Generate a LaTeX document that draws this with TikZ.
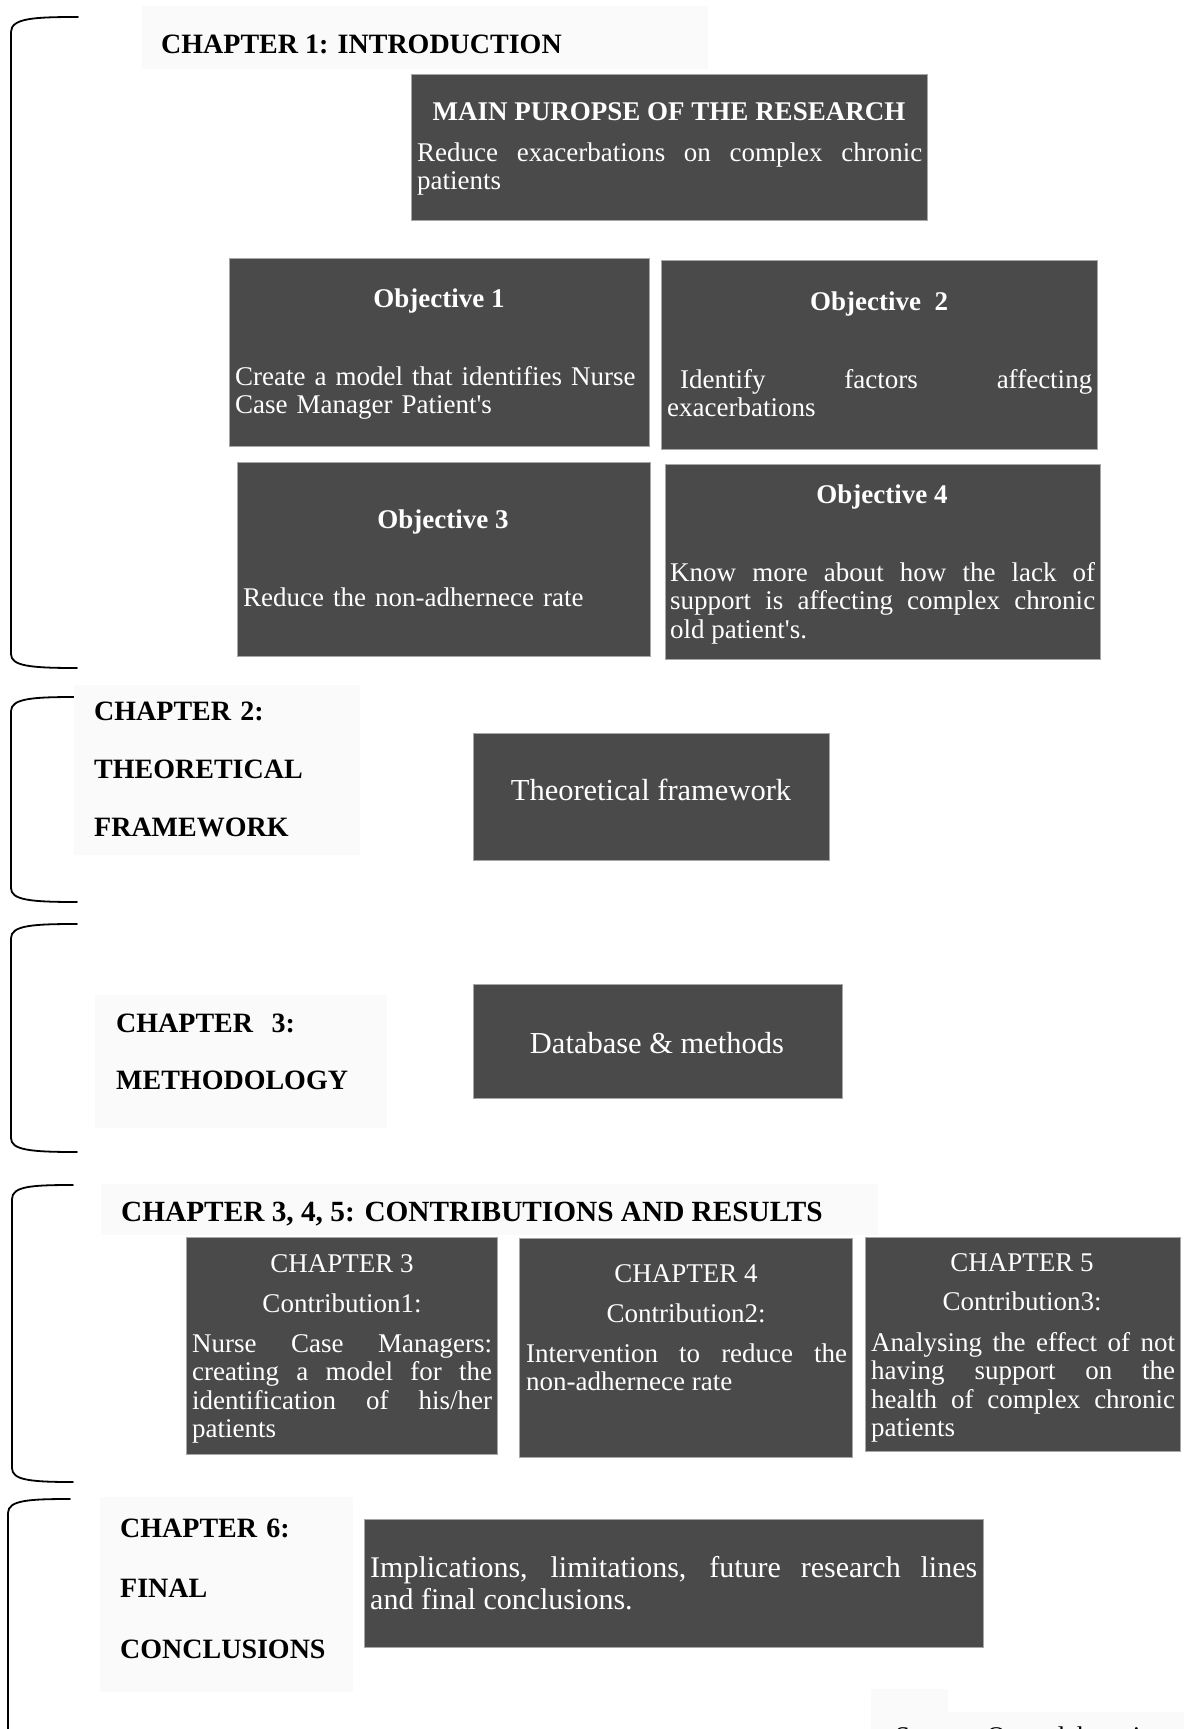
\documentclass[tikz,border=0pt]{standalone}
\usepackage{fontspec}
\setmainfont{Liberation Serif}
\definecolor{boxgrey}{RGB}{74,74,74}
\definecolor{paper}{RGB}{250,250,250}
\hyphenpenalty=10000
\exhyphenpenalty=10000

\begin{document}
\begin{tikzpicture}[x=1pt,y=-1pt,
  dark/.style={fill=boxgrey,draw=black!35,line width=1pt,anchor=north west,inner sep=0pt},
  pale/.style={fill=paper,anchor=north west,inner sep=0pt},
  chap/.style={font=\fontsize{28}{30}\selectfont\bfseries,anchor=base west,inner sep=0pt},
  head/.style={font=\fontsize{27}{28.5}\selectfont\bfseries,text=white,anchor=base,inner sep=0pt},
  sub/.style={font=\fontsize{27}{28.5}\selectfont,text=white,anchor=base,inner sep=0pt},
  txt/.style={font=\fontsize{27}{28.5}\selectfont,text=white,anchor=base west,inner sep=0pt,align=justify},
  big/.style={font=\fontsize{30.5}{32}\selectfont,text=white,anchor=base,inner sep=0pt},
  brace/.style={line width=1.8pt,line cap=round}]
  \useasboundingbox (0,0) rectangle (1184,1729);

  \draw[brace] (78,17) .. controls (35,17) and (11,18) .. (11,32) -- (11,654) .. controls (11,666) and (30,668) .. (77,668);
  \draw[brace] (77,697) .. controls (35,697) and (11,698) .. (11,711) -- (11,888) .. controls (11,900) and (30,902) .. (77,902);
  \draw[brace] (77,924) .. controls (35,924) and (11,925) .. (11,938) -- (11,1138) .. controls (11,1150) and (30,1152) .. (77,1152);
  \draw[brace] (73,1185) .. controls (33,1185) and (12,1186) .. (12,1199) -- (12,1468) .. controls (12,1480) and (30,1482) .. (73,1482);
  \draw[brace] (70,1499) .. controls (30,1499) and (8,1500) .. (8,1513) -- (8,1729);

  \node[pale,minimum width=566,minimum height=63] (Ch1) at (142,6) {};
  \node[chap] (Ch1T) at (161,53) {CHAPTER 1: INTRODUCTION};

  \node[dark,minimum width=516,minimum height=146] (Main) at (411,74) {};
  \node[head] (MainT) at (669,120) {MAIN PUROPSE OF THE RESEARCH};
  \node[txt,text width=505] (MainB) at (417,161) {Reduce exacerbations on complex chronic\linebreak patients};

  \node[dark,minimum width=420,minimum height=188] (Obj1) at (229,258) {};
  \node[head] (Obj1T) at (439,307) {Objective 1};
  \node[txt,text width=406,align=left] (Obj1B) at (235,385) {Create a model that identifies Nurse\\Case Manager Patient\textquotesingle s};

  \node[dark,minimum width=436,minimum height=189] (Obj2) at (661,260) {};
  \node[head] (Obj2T) at (879,310) {Objective\ \ 2};
  \node[txt,text width=425] (Obj2B) at (667,388) {\hspace*{13pt}Identify factors affecting\linebreak exacerbations};

  \node[dark,minimum width=413,minimum height=194] (Obj3) at (237,462) {};
  \node[head] (Obj3T) at (443,528) {Objective 3};
  \node[txt,text width=400,align=left] (Obj3B) at (243,606) {Reduce the non-adhernece rate};

  \node[dark,minimum width=435,minimum height=195] (Obj4) at (665,464) {};
  \node[head] (Obj4T) at (882,503) {Objective 4};
  \node[txt,text width=425] (Obj4B) at (670,581) {Know more about how the lack of\linebreak support is affecting complex chronic\linebreak old patient\textquotesingle s.};

  \node[pale,minimum width=286,minimum height=170] (Ch2) at (74,685) {};
  \node[chap,font=\fontsize{28}{58}\selectfont\bfseries,text width=260,align=left] (Ch2T) at (94,720) {CHAPTER 2:\\THEORETICAL\\FRAMEWORK};

  \node[dark,minimum width=356,minimum height=127] (Theo) at (473,733) {};
  \node[big] (TheoT) at (651,800) {Theoretical framework};

  \node[pale,minimum width=292,minimum height=133] (Ch3) at (95,995) {};
  \node[chap,font=\fontsize{28}{57}\selectfont\bfseries,text width=260,align=left] (Ch3T) at (116,1032) {CHAPTER\ \ 3:\\METHODOLOGY};

  \node[dark,minimum width=369,minimum height=114] (Data) at (473,984) {};
  \node[big] (DataT) at (657,1053) {Database \& methods};

  \node[pale,minimum width=777,minimum height=51] (Ch345) at (101,1184) {};
  \node[chap,font=\fontsize{29.3}{31}\selectfont\bfseries] (Ch345T) at (121,1221) {CHAPTER 3, 4, 5: CONTRIBUTIONS AND RESULTS};

  \node[dark,minimum width=311,minimum height=217] (C3) at (186,1237) {};
  \node[sub] (C3T) at (342,1272) {CHAPTER 3};
  \node[sub] (C3S) at (342,1312) {Contribution1:};
  \node[txt,text width=300] (C3B) at (192,1352) {Nurse Case Managers:\linebreak creating a model for the\linebreak identification of his/her\linebreak patients};

  \node[dark,minimum width=333,minimum height=219] (C4) at (519,1238) {};
  \node[sub] (C4T) at (686,1282) {CHAPTER 4};
  \node[sub] (C4S) at (686,1322) {Contribution2:};
  \node[txt,text width=321] (C4B) at (526,1362) {Intervention to reduce the\linebreak non-adhernece rate};

  \node[dark,minimum width=315,minimum height=214] (C5) at (865,1237) {};
  \node[sub] (C5T) at (1022,1271) {CHAPTER 5};
  \node[sub] (C5S) at (1022,1310) {Contribution3:};
  \node[txt,text width=304] (C5B) at (871,1351) {Analysing the effect of not\linebreak having support on the\linebreak health of complex chronic\linebreak patients};

  \node[pale,minimum width=253,minimum height=195] (Ch6) at (100,1497) {};
  \node[chap,font=\fontsize{28}{60.5}\selectfont\bfseries,text width=230,align=left] (Ch6T) at (120,1537) {CHAPTER 6:\\FINAL\\CONCLUSIONS};

  \node[dark,minimum width=619,minimum height=128] (Impl) at (364,1519) {};
  \node[txt,font=\fontsize{30}{32}\selectfont,text width=607] (ImplB) at (370,1577) {Implications, limitations, future research lines\linebreak and final conclusions.};

  \begin{scope}
    \clip (0,0) rectangle (1184,1729);
    \fill[paper] (871,1689) rectangle (948,1729);
    \fill[paper] (871,1712) rectangle (1184,1729);
    \node[font=\fontsize{27}{28.5}\selectfont,anchor=base west,inner sep=0pt] (Src) at (895,1745) {Source: Own elaboration};
  \end{scope}
\end{tikzpicture}
\end{document}
